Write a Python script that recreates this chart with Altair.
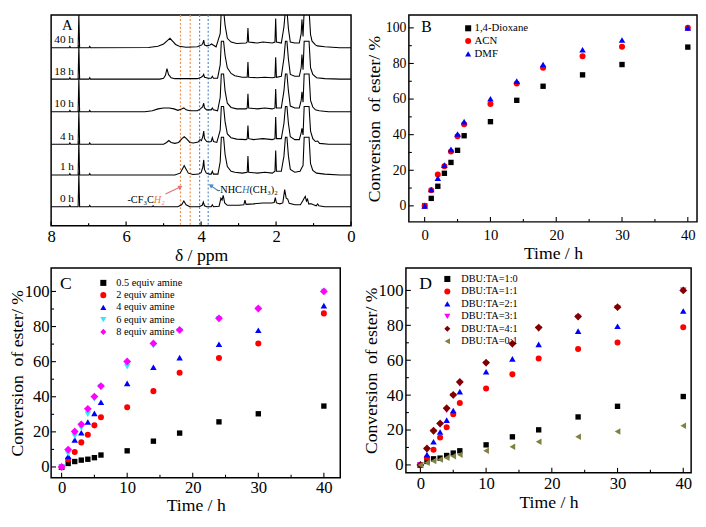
import altair as alt
import pandas as pd

FONT = "Liberation Serif"

# ---------------- Panel A : stacked 1H NMR spectra (ppm, intensity) ----------------
spec_names = ["0 h", "1 h", "4 h", "10 h", "18 h", "40 h"]
spec_offsets = [20.2, 53.7, 86.2, 120.7, 155.2, 188.4]

cdcl3_region = [(8.0, 0), (7.52, 0), (7.5, 1.5), (7.48, 0), (7.28, 0), (7.26, 36), (7.24, 0),
                (6.99, 0), (6.97, 1.5), (6.95, 0)]

spec_0h = cdcl3_region + [
    (5.3, 0), (5.28, 1), (5.26, 0),
    (4.62, 0), (4.52, 2), (4.46, 6), (4.40, 2), (4.30, 0),
    (4.05, 0), (3.97, 1.5), (3.94, 5), (3.91, 1), (3.85, 0),
    (3.73, 0), (3.70, 2), (3.67, 0),
    (3.52, 0.5), (3.47, 9), (3.44, 7), (3.41, 12), (3.37, 4), (3.30, 1.5),
    (3.0, 1.5), (2.86, 2), (2.83, 7), (2.80, 2.5), (2.6, 3), (2.35, 4), (2.12, 4), (2.05, 4.5),
    (2.02, 9.5), (1.99, 4), (1.9, 3), (1.82, 4), (1.77, 18), (1.73, 9), (1.69, 8), (1.65, 3.5),
    (1.5, 2), (1.35, 2), (1.29, 6), (1.25, 9), (1.22, 11), (1.19, 6), (1.16, 8), (1.13, 3),
    (1.06, 3), (1.0, 2), (0.93, 1), (0.89, 3), (0.86, 1), (0.7, 0), (0.0, 0)]

spec_1h = cdcl3_region + [
    (4.7, 0), (4.56, 2), (4.49, 7), (4.45, 10), (4.41, 7), (4.34, 2), (4.22, 0.5),
    (4.06, 1), (4.0, 2.5), (3.95, 9), (3.93, 16), (3.91, 6), (3.86, 2), (3.78, 1),
    (3.73, 1), (3.70, 4), (3.67, 1), (3.55, 1), (3.49, 14), (3.46, 40), (3.40, 40), (3.36, 22),
    (3.30, 9), (3.2, 4), (3.1, 3),
    (2.9, 2), (2.77, 3), (2.75, 20), (2.73, 3), (2.5, 2), (2.3, 3), (2.1, 2), (2.03, 4),
    (2.01, 26), (1.99, 4), (1.86, 4), (1.79, 20), (1.75, 40), (1.71, 40), (1.67, 20), (1.62, 6),
    (1.5, 3), (1.36, 4), (1.31, 8), (1.28, 10), (1.25, 40), (1.21, 40), (1.16, 40), (1.12, 40),
    (1.08, 12), (1.02, 5), (0.92, 2), (0.7, 1), (0.3, 0), (0.0, 0)]

spec_4h = cdcl3_region + [
    (5.0, 0), (4.92, 2), (4.86, 4), (4.80, 2), (4.7, 1), (4.6, 2), (4.51, 6), (4.45, 8),
    (4.39, 6), (4.3, 2), (4.2, 1.5),
    (4.08, 2.5), (4.03, 5), (3.99, 4), (3.95, 9), (3.93, 14), (3.91, 6), (3.85, 3), (3.79, 2.5),
    (3.73, 3), (3.70, 7), (3.67, 3), (3.58, 2), (3.49, 15), (3.46, 40), (3.40, 40), (3.36, 24),
    (3.3, 11), (3.2, 7), (3.05, 5.5),
    (2.8, 5), (2.77, 6), (2.75, 20), (2.73, 6), (2.6, 5), (2.35, 6), (2.1, 5), (2.03, 6),
    (2.01, 29), (1.99, 6), (1.86, 6), (1.79, 22), (1.75, 40), (1.71, 40), (1.67, 22), (1.62, 8),
    (1.5, 5), (1.38, 5), (1.33, 12), (1.31, 17), (1.28, 10), (1.25, 40), (1.21, 40), (1.16, 40),
    (1.12, 40), (1.08, 14), (1.02, 6), (0.95, 3), (0.89, 3.5), (0.84, 1), (0.6, 0), (0.0, 0)]

spec_10h = cdcl3_region + [
    (5.5, 0), (5.3, 1), (5.15, 3), (5.0, 4), (4.85, 4), (4.72, 3), (4.62, 1.5), (4.52, 3),
    (4.46, 4), (4.4, 2), (4.3, 1),
    (4.1, 1), (4.02, 3), (3.96, 5), (3.93, 9), (3.91, 4), (3.85, 2), (3.73, 2), (3.70, 4),
    (3.67, 2), (3.56, 1), (3.49, 15), (3.46, 40), (3.40, 40), (3.36, 22), (3.3, 9), (3.2, 4.5),
    (3.05, 3),
    (2.8, 3), (2.77, 4), (2.75, 19), (2.73, 4), (2.5, 3), (2.3, 4), (2.1, 3), (2.03, 4),
    (2.01, 24), (1.99, 4), (1.86, 4), (1.79, 22), (1.75, 40), (1.71, 40), (1.67, 22), (1.62, 6),
    (1.5, 4), (1.38, 4), (1.33, 12), (1.31, 21), (1.28, 10), (1.25, 40), (1.21, 40), (1.16, 40),
    (1.12, 40), (1.08, 12), (1.02, 5), (0.95, 2), (0.85, 1), (0.6, 0), (0.0, 0)]

spec_18h = cdcl3_region + [
    (5.1, 0), (5.0, 1), (4.95, 4), (4.91, 11), (4.87, 5), (4.8, 1.5), (4.7, 0.5),
    (4.1, 0.5), (4.0, 2), (3.96, 3), (3.93, 5), (3.91, 2), (3.8, 1), (3.73, 1), (3.70, 3),
    (3.67, 1), (3.56, 1), (3.49, 15), (3.46, 40), (3.40, 40), (3.36, 25), (3.3, 12), (3.2, 6),
    (3.1, 3.5),
    (2.9, 2), (2.77, 2), (2.75, 18), (2.73, 2), (2.5, 1.5), (2.3, 2), (2.1, 1.5), (2.03, 2),
    (2.01, 23), (1.99, 2), (1.86, 3), (1.79, 22), (1.75, 40), (1.71, 40), (1.67, 21), (1.62, 5),
    (1.5, 3), (1.38, 3), (1.33, 12), (1.31, 26), (1.28, 10), (1.25, 40), (1.21, 40), (1.16, 40),
    (1.12, 40), (1.08, 12), (1.02, 5), (0.92, 1.5), (0.7, 0.5), (0.3, 0), (0.0, 0)]

spec_40h = cdcl3_region + [
    (5.4, 0.3), (5.15, 1.5), (5.0, 4), (4.9, 7.5), (4.83, 10), (4.76, 7), (4.68, 3.5),
    (4.58, 1.5), (4.4, 0.5),
    (4.1, 1), (4.04, 2), (3.98, 3), (3.95, 5), (3.93, 8), (3.91, 3), (3.85, 2), (3.76, 3),
    (3.72, 4), (3.68, 3), (3.6, 1), (3.49, 15), (3.46, 40), (3.40, 40), (3.36, 24), (3.3, 10),
    (3.2, 6), (3.05, 4.5),
    (2.8, 5), (2.77, 6), (2.75, 21), (2.73, 6), (2.5, 5), (2.35, 6), (2.1, 5), (2.03, 6),
    (2.01, 31), (1.99, 6), (1.86, 5), (1.79, 22), (1.75, 40), (1.71, 40), (1.67, 20), (1.62, 6),
    (1.5, 5), (1.38, 5), (1.33, 15), (1.31, 30), (1.28, 12), (1.25, 40), (1.21, 40), (1.16, 40),
    (1.12, 40), (1.08, 14), (1.04, 7), (0.95, 3), (0.9, 2), (0.7, 1), (0.3, 0), (0.0, 0)]

ppm_ticks_major = [8, 6, 4, 2, 0]
ppm_ticks_minor = [7, 5, 3, 1]
dash_ppm = [4.55, 4.29, 4.04, 3.81]
dash_colors = ["#F0904F", "#F0904F", "#5B8BCB", "#5B8BCB"]

# annotations (text pieces, anchor ppm, height in spectrum units)
anno_right_txt = ["-CF\u2083C"]
anno_right_ppm = [5.26]
anno_right_y = [27.7]
anno_left_txt = ["-NHC", "(CH\u2083)\u2082"]
anno_left_ppm = [3.58, 2.71]
anno_left_y = [38.2, 38.2]
anno_col_txt = ["H\u2082", "H"]
anno_col_ppm = [5.26, 2.91]
anno_col_y = [27.7, 38.2]
anno_col_c = ["#EE7F3B", "#3F74B5"]
arrow_from_ppm = [4.95, 3.53]
arrow_to_ppm = [4.57, 3.73]
arrow_from_y = [33.7, 36.9]
arrow_to_y = [40.7, 42.2]
arrow_color = ["#E8707A", "#4A8CC0"]
arrow_angle = [64, 303]

# ---------------- Panels B, C, D : conversion vs time ----------------
time_h = [0, 1, 2, 3, 4, 5, 6, 10, 14, 18, 24, 30, 40]

b_names = ["1,4-Dioxane", "ACN", "DMF"]
b_dioxane = [0, 4.2, 11.0, 18.3, 24.4, 31.2, 39.4, 47.3, 59.3, 67.2, 73.6, 79.4, 89.2]
b_acn = [0, 8.8, 17.6, 22.2, 30.5, 39.1, 45.9, 57.2, 68.8, 77.6, 84.0, 89.4, 100]
b_dmf = [0, 9.2, 15.6, 22.9, 31.7, 40.4, 47.3, 60.2, 70.1, 79.4, 87.7, 93.2, 100]

c_names = ["0.5 equiv amine", "2 equiv amine", "4 equiv amine", "6 equiv amine", "8 equiv amine"]
c_05 = [0, 2.0, 3.1, 3.9, 4.4, 5.3, 6.8, 9.2, 14.7, 19.3, 25.7, 30.3, 34.7]
c_2 = [0, 4.2, 8.5, 14.0, 18.4, 23.7, 28.3, 34.0, 43.2, 53.7, 62.1, 70.4, 87.5]
c_4 = [0, 6.1, 15.4, 19.5, 25.6, 30.5, 36.9, 47.6, 56.8, 62.3, 69.9, 77.9, 91.9]
c_6 = [0, 7.5, 17.6, 22.2, 30.1, 38.8, 45.5, 57.2, 69.1, 77.4, 84.2, 89.7, 100]
c_8 = [0, 9.9, 20.2, 24.3, 33.1, 40.1, 46.1, 60.1, 70.4, 78.1, 84.7, 90.3, 100]

d_names = ["DBU:TA=1:0", "DBU:TA=1:1", "DBU:TA=2:1", "DBU:TA=3:1", "DBU:TA=4:1", "DBU:TA=0:1"]
d_10 = [0, 2.0, 3.5, 3.9, 5.4, 6.8, 8.1, 11.5, 16.1, 20.1, 27.5, 33.6, 39.2]
d_11 = [0, 4.1, 8.7, 15.7, 21.6, 29.0, 35.5, 43.8, 51.9, 61.0, 66.4, 70.2, 78.9]
d_21 = [0, 5.9, 13.3, 18.9, 25.7, 31.2, 42.0, 53.4, 60.8, 69.1, 76.7, 79.5, 88.2]
d_31 = [0, 8.7, 18.9, 22.9, 31.4, 39.6, 46.6, 58.0, 68.8, 78.0, 84.5, 90.0, 100]
d_41 = [0, 9.4, 19.6, 23.8, 32.5, 40.1, 47.5, 58.6, 69.5, 78.7, 85.0, 90.4, 100]
d_01 = [0, 1.3, 2.2, 3.1, 4.1, 5.0, 5.9, 8.1, 10.4, 13.3, 16.1, 19.2, 22.4]

x_major = [0, 10, 20, 30, 40]
x_minor = [5, 15, 25, 35]
y_major = [0, 20, 40, 60, 80, 100]
y_minor = [10, 30, 50, 70, 90]
panel_letters = ["A", "B", "C", "D"]

# ---------------- styles ----------------
shape_size = {"square": 30, "circle": 38, "triangle-up": 44, "triangle-down": 44,
              "diamond": 64, "triangle-left": 44}
Y_TITLE = "Conversion\u00a0 of ester/ %"

# ---------------- Panel A ----------------
WA, HA = 306, 215
rowsA = []
for name, off, pts in zip(spec_names, spec_offsets,
                          [spec_0h, spec_1h, spec_4h, spec_10h, spec_18h, spec_40h]):
    for p, h in pts:
        rowsA.append({"spec": name, "ppm": p, "y": off + h})
dfA = pd.DataFrame(rowsA)

scA_x = alt.Scale(domain=[8, 0], nice=False, zero=False)
scA_y = alt.Scale(domain=[0, 223], nice=False, zero=False)
axA_x = alt.Axis(values=ppm_ticks_major, title="δ / ppm", format="d", labelFontSize=17,
                 labelPadding=3, titleFontSize=18, titlePadding=2, ticks=False,
                 domain=False, grid=False, labelFlush=False, labelFont=FONT, titleFont=FONT,
                 titleFontWeight="normal", labelColor="black", titleColor="black")
axA_y = alt.Axis(labels=False, ticks=False, domain=False, grid=False, title=None,
                 minExtent=32, maxExtent=32)


def XA(field):
    return alt.X(field, scale=scA_x, axis=axA_x)


def YA(field):
    return alt.Y(field, scale=scA_y, axis=axA_y)


spectra = alt.Chart(dfA).mark_line(color="black", strokeWidth=1.1, clip=True).encode(
    x=XA("ppm:Q"), y=YA("y:Q"), detail="spec:N")

dashes = alt.Chart(pd.DataFrame({"ppm": dash_ppm, "c": dash_colors})).mark_rule(
    strokeDash=[2, 2], strokeWidth=1.2).encode(x=XA("ppm:Q"), color=alt.Color("c:N", scale=None))

spec_lab = alt.Chart(pd.DataFrame({"spec": spec_names, "off": spec_offsets})).transform_calculate(
    ly="datum.off + 8").mark_text(align="right", baseline="middle", font=FONT, fontSize=11.5).encode(
    x=alt.X(datum=7.39, type="quantitative", scale=scA_x, axis=axA_x), y=YA("ly:Q"), text="spec:N")

a_right = alt.Chart(pd.DataFrame({"t": anno_right_txt, "ppm": anno_right_ppm, "y": anno_right_y})).mark_text(
    align="right", baseline="middle", font=FONT, fontSize=10.5).encode(x=XA("ppm:Q"), y=YA("y:Q"), text="t:N")
a_left = alt.Chart(pd.DataFrame({"t": anno_left_txt, "ppm": anno_left_ppm, "y": anno_left_y})).mark_text(
    align="left", baseline="middle", font=FONT, fontSize=10.5).encode(x=XA("ppm:Q"), y=YA("y:Q"), text="t:N")
a_col = alt.Chart(pd.DataFrame({"t": anno_col_txt, "ppm": anno_col_ppm, "y": anno_col_y, "c": anno_col_c})).mark_text(
    align="left", baseline="middle", font=FONT, fontSize=10.5, fontStyle="italic").encode(
    x=XA("ppm:Q"), y=YA("y:Q"), text="t:N", color=alt.Color("c:N", scale=None))

dfArrow = pd.DataFrame({"ppm": arrow_from_ppm, "ppm2": arrow_to_ppm, "y": arrow_from_y,
                        "y2": arrow_to_y, "c": arrow_color, "ang": arrow_angle})
arrow_line = alt.Chart(dfArrow).mark_rule(strokeWidth=1.2).encode(
    x=XA("ppm:Q"), x2="ppm2:Q", y=YA("y:Q"), y2="y2:Q", color=alt.Color("c:N", scale=None))
arrow_head = alt.Chart(dfArrow).mark_point(shape="triangle", filled=True, size=26, opacity=1).encode(
    x=XA("ppm2:Q"), y=YA("y2:Q"), angle=alt.Angle("ang:Q", scale=None),
    color=alt.Color("c:N", scale=None))

tickA_major = alt.Chart(pd.DataFrame({"ppm": ppm_ticks_major})).mark_rule(color="black", strokeWidth=1.2).encode(
    x=XA("ppm:Q"), y=alt.value(HA), y2=alt.value(HA - 4.5))
tickA_minor = alt.Chart(pd.DataFrame({"ppm": ppm_ticks_minor})).mark_rule(color="black", strokeWidth=1.2).encode(
    x=XA("ppm:Q"), y=alt.value(HA), y2=alt.value(HA - 2.7))
letterA = alt.Chart(pd.DataFrame({"L": [panel_letters[0]]})).mark_text(
    font=FONT, fontSize=15, align="center", baseline="middle").encode(
    text="L:N", x=alt.value(16.5), y=alt.value(10.5))

panelA = alt.layer(dashes, spectra, spec_lab, a_right, a_left, a_col, arrow_line, arrow_head,
                   tickA_major, tickA_minor, letterA).properties(width=WA, height=HA)


# ---------------- scatter panels ----------------
def scatter_panel(names, series, colors, shapes, letter, w, h, xdom, ydom,
                  xlab_fs, ylab_fs, xlab_pad, ylab_pad, yext, title_pad_x,
                  leg_x, leg_y, leg_fs, leg_off, leg_rowpad, letter_xy, letter_fs):
    rows = []
    for n, vals, sh in zip(names, series, shapes):
        for t, v in zip(time_h, vals):
            rows.append({"time": t, "conv": v, "series": n, "sz": shape_size[sh]})
    df = pd.DataFrame(rows)
    xs = alt.Scale(domain=xdom, nice=False, zero=False)
    ys = alt.Scale(domain=ydom, nice=False, zero=False)
    xax = alt.Axis(values=x_major, title="Time / h", format="d", labelFontSize=xlab_fs,
                   labelPadding=xlab_pad, titleFontSize=18, titlePadding=title_pad_x,
                   ticks=False, domain=False, grid=False, labelFlush=False,
                   labelFont=FONT, titleFont=FONT, titleFontWeight="normal",
                   labelColor="black", titleColor="black")
    yax = alt.Axis(values=y_major, title=Y_TITLE, format="d", labelFontSize=ylab_fs,
                   labelPadding=ylab_pad, titleFontSize=18, titlePadding=0,
                   minExtent=yext, maxExtent=yext, ticks=False, domain=False, grid=False,
                   labelFont=FONT, titleFont=FONT, titleFontWeight="normal",
                   labelColor="black", titleColor="black")
    leg = alt.Legend(orient="none", legendX=leg_x, legendY=leg_y, title=None, labelFont=FONT,
                     labelFontSize=leg_fs, labelColor="black", symbolSize=38,
                     symbolStrokeWidth=0, symbolOpacity=1, rowPadding=leg_rowpad,
                     labelOffset=leg_off, padding=0, offset=0)
    pts = alt.Chart(df).mark_point(filled=True, opacity=1, strokeWidth=0).encode(
        x=alt.X("time:Q", scale=xs, axis=xax),
        y=alt.Y("conv:Q", scale=ys, axis=yax),
        color=alt.Color("series:N", scale=alt.Scale(domain=names, range=colors), legend=leg),
        shape=alt.Shape("series:N", scale=alt.Scale(domain=names, range=shapes), legend=leg),
        size=alt.Size("sz:Q", scale=None))
    tx1 = alt.Chart(pd.DataFrame({"time": x_major})).mark_rule(color="black", strokeWidth=1.1).encode(
        x=alt.X("time:Q", scale=xs, axis=xax), y=alt.value(h), y2=alt.value(h - 5))
    tx2 = alt.Chart(pd.DataFrame({"time": x_minor})).mark_rule(color="black", strokeWidth=1.1).encode(
        x=alt.X("time:Q", scale=xs, axis=xax), y=alt.value(h), y2=alt.value(h - 3))
    ty1 = alt.Chart(pd.DataFrame({"conv": y_major})).mark_rule(color="black", strokeWidth=1.1).encode(
        y=alt.Y("conv:Q", scale=ys, axis=yax), x=alt.value(0), x2=alt.value(5))
    ty2 = alt.Chart(pd.DataFrame({"conv": y_minor})).mark_rule(color="black", strokeWidth=1.1).encode(
        y=alt.Y("conv:Q", scale=ys, axis=yax), x=alt.value(0), x2=alt.value(3))
    let = alt.Chart(pd.DataFrame({"L": [letter]})).mark_text(
        font=FONT, fontSize=letter_fs, align="center", baseline="middle").encode(
        text="L:N", x=alt.value(letter_xy[0]), y=alt.value(letter_xy[1]))
    return alt.layer(tx1, tx2, ty1, ty2, pts, let).properties(width=w, height=h)


panelB = scatter_panel(
    b_names, [b_dioxane, b_acn, b_dmf], ["#000000", "#FF0000", "#0000FF"],
    ["square", "circle", "triangle-up"], panel_letters[1], 294, 211,
    [-2.4, 41.4], [-9.0, 107.2], 15, 14, 6, 3, 26, 2,
    55, 8, 11, 1, 1, (18, 12), 16)

panelC = scatter_panel(
    c_names, [c_05, c_2, c_4, c_6, c_8],
    ["#000000", "#FF0000", "#0000FF", "#33E6FF", "#FF00FF"],
    ["square", "circle", "triangle-up", "triangle-down", "diamond"], panel_letters[2], 295, 214,
    [-1.6, 42.5], [-6.1, 113.4], 17, 17, 2, 2, 25, 2,
    48, 10, 10.5, 8, 1.5, (15, 16), 18)

panelD = scatter_panel(
    d_names, [d_10, d_11, d_21, d_31, d_41, d_01],
    ["#000000", "#FF0000", "#0000FF", "#FF00FF", "#800000", "#808040"],
    ["square", "circle", "triangle-up", "triangle-down", "diamond", "triangle-left"],
    panel_letters[3], 291, 209,
    [-2.2, 41.2], [-4.5, 112.9], 17, 17, 3, 3, 26, 2,
    37, 6, 10.5, 9, 1.7, (20, 16), 18)

indep = dict(color="independent", shape="independent", size="independent")

row1 = alt.hconcat(panelA, panelB, spacing=9).resolve_scale(**indep).resolve_legend(
    color="independent", shape="independent")
row2 = alt.hconcat(panelC, panelD, spacing=21).resolve_scale(**indep).resolve_legend(
    color="independent", shape="independent")

chart = alt.vconcat(row1, row2, spacing=2).resolve_scale(**indep).resolve_legend(
    color="independent", shape="independent").properties(padding=0, background="white")
chart = chart.configure_view(stroke="black", strokeWidth=1.5).configure_axis(
    grid=False, labelColor="black", titleColor="black", labelFont=FONT, titleFont=FONT,
    titleFontWeight="normal")

chart.save("out.html", embed_options={"renderer": "svg", "actions": False})
